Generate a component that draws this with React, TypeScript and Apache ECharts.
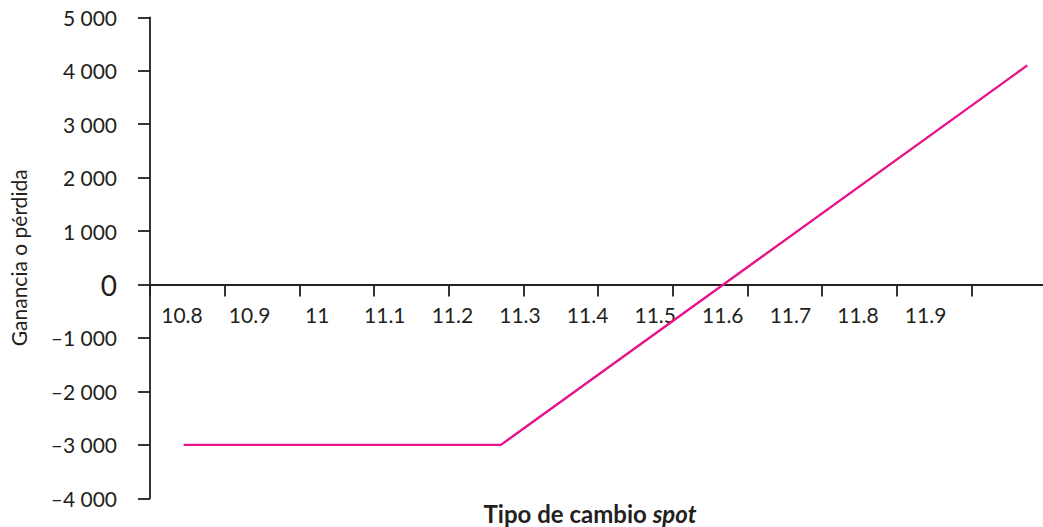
import React, { useEffect, useRef } from "react";
import * as echarts from "echarts";

// Data: payoff (ganancia o pérdida) vs tipo de cambio spot
const spotValues = [10.845, 11.27, 11.975];
const payoffValues = [-3000, -3000, 4100];

// Tick values / labels
const yTicks = [-4000, -3000, -2000, -1000, 0, 1000, 2000, 3000, 4000, 5000];
const yTickLabels = ["–4 000", "–3 000", "–2 000", "–1 000", "0", "1 000", "2 000", "3 000", "4 000", "5 000"];
const xLabelCategories = ["10.8", "10.9", "11", "11.1", "11.2", "11.3", "11.4", "11.5", "11.6", "11.7", "11.8", "11.9", ""];

const INK = "#231f20";
const FONT = "Lato, 'Open Sans', sans-serif";

export default function App() {
  const ref = useRef<HTMLDivElement>(null);

  useEffect(() => {
    if (!ref.current) return;
    const chart = echarts.init(ref.current, undefined, { renderer: "svg" });
    const seriesData = spotValues.map((x, i) => [x, payoffValues[i]]);
    chart.setOption({
      animation: false,
      backgroundColor: "#ffffff",
      textStyle: { fontFamily: FONT },
      grid: [
        { left: 150, right: -3, top: 17.3, height: 481, containLabel: false, outerBoundsMode: "none" },
        { left: 148.2, width: 878.8, top: 17.3, height: 267.5, containLabel: false, outerBoundsMode: "none" },
      ],
      xAxis: [
        {
          type: "value",
          gridIndex: 0,
          min: 10.8,
          max: 12.0,
          interval: 0.1,
          axisLine: { show: true, onZero: true, lineStyle: { color: INK, width: 1.8 } },
          axisTick: { show: true, length: 12, lineStyle: { color: INK, width: 1.8 } },
          axisLabel: { show: false },
          splitLine: { show: false },
        },
        {
          type: "category",
          gridIndex: 1,
          data: xLabelCategories,
          boundaryGap: true,
          axisLine: { show: false },
          axisTick: { show: false },
          axisLabel: {
            show: true,
            interval: 0,
            margin: 19,
            color: INK,
            fontSize: 21,
            fontFamily: FONT,
          },
          splitLine: { show: false },
        },
      ],
      yAxis: [
        {
          type: "value",
          gridIndex: 0,
          min: -4000,
          max: 5000,
          interval: 1000,
          axisLine: { show: true, onZero: false, lineStyle: { color: INK, width: 1.8 } },
          axisTick: { show: true, length: 12, lineStyle: { color: INK, width: 1.8 } },
          axisLabel: {
            margin: 33,
            color: INK,
            fontSize: 21,
            fontFamily: FONT,
            formatter: (v: number) => {
              const idx = yTicks.indexOf(v);
              const s = idx >= 0 ? yTickLabels[idx] : String(v);
              return v === 0 ? "{z|" + s + "}" : s;
            },
            rich: {
              z: { fontSize: 28, color: INK, fontFamily: FONT },
            },
          },
          splitLine: { show: false },
          name: "Ganancia o pérdida",
          nameLocation: "middle",
          nameGap: 121,
          nameTextStyle: { color: INK, fontSize: 21, fontFamily: FONT },
        },
        { type: "value", gridIndex: 1, show: false, min: 0, max: 1 },
      ],
      graphic: [
        {
          type: "text",
          x: 590,
          y: 513,
          style: {
            text: "{b|Tipo de cambio }{i|spot}",
            align: "center",
            verticalAlign: "middle",
            textAlign: "center",
            textVerticalAlign: "middle",
            rich: {
              b: { fontSize: 24, fontWeight: "bold", fontFamily: FONT, fill: INK },
              i: { fontSize: 24, fontWeight: "bold", fontStyle: "italic", fontFamily: FONT, fill: INK },
            },
          },
        },
      ],
      series: [
        {
          type: "line",
          xAxisIndex: 0,
          yAxisIndex: 0,
          data: seriesData,
          showSymbol: false,
          symbol: "none",
          lineStyle: { color: "#e8138b", width: 2.4 },
        },
      ],
    });
    return () => chart.dispose();
  }, []);

  return <div ref={ref} style={{ width: 1043, height: 527, position: "absolute", left: 0, top: 0 }} />;
}
